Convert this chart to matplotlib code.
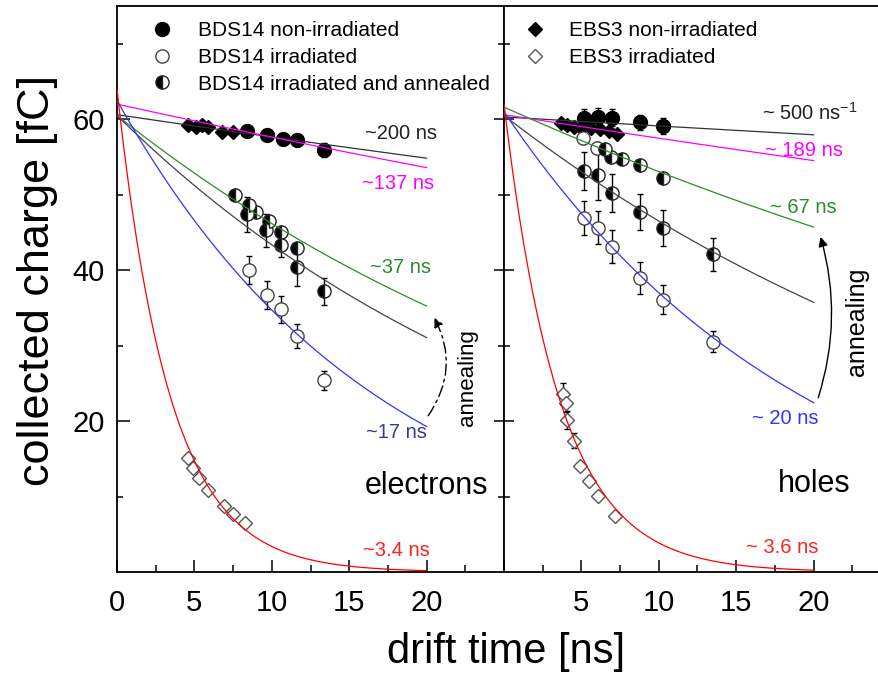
import matplotlib
matplotlib.use("Agg")
import matplotlib.pyplot as plt
from matplotlib.lines import Line2D
import numpy as np

plt.rcParams["font.family"] = ["Liberation Sans", "DejaVu Sans"]
plt.rcParams["mathtext.fontset"] = "custom"
plt.rcParams["mathtext.rm"] = "Liberation Sans"
plt.rcParams["mathtext.default"] = "regular"

# ---- electrons (left panel) ----
bds_non_e_t = [8.4, 9.7, 10.7, 11.6, 13.4]
bds_non_e_q = [58.4, 57.9, 57.4, 57.3, 55.9]
bds_non_e_err = [0.8, 0.7, 0.7, 0.7, 0.9]

ebs_non_e_t = [4.6, 5.1, 5.5, 5.9, 6.8, 7.5]
ebs_non_e_q = [59.2, 59.0, 59.2, 59.0, 58.3, 58.3]

bds_irr_e_t = [8.5, 9.7, 10.6, 11.6, 13.4]
bds_irr_e_q = [40.0, 36.7, 34.8, 31.3, 25.4]
bds_irr_e_err = [1.9, 1.9, 1.8, 1.6, 1.3]

bds_ann_e_t = [7.6, 8.4, 8.5, 9.0, 9.6, 9.8, 10.6, 10.6, 11.6, 11.6, 13.4]
bds_ann_e_q = [49.9, 47.4, 48.6, 47.7, 45.3, 46.5, 45.0, 43.3, 42.9, 40.4, 37.2]
bds_ann_e_err = [0.5, 2.3, 0.6, 0.5, 2.2, 0.6, 0.6, 1.5, 0.6, 2.5, 1.8]

ebs_irr_e_t = [4.6, 4.9, 5.3, 5.9, 6.9, 7.5, 8.3]
ebs_irr_e_q = [15.1, 13.8, 12.5, 10.8, 8.8, 7.7, 6.5]

# exponential fits Q0*exp(-t/tau) for electrons
tau_e = [200, 137, 37, 30, 17, 3.4]
q0_e = [60.6, 62.0, 60.5, 60.5, 62.5, 64.0]

# ---- holes (right panel) ----
bds_non_h_t = [5.2, 6.1, 7.0, 8.8, 10.3]
bds_non_h_q = [60.2, 60.3, 60.2, 59.6, 59.1]
bds_non_h_err = [1.1, 1.2, 1.1, 1.0, 1.0]

ebs_non_h_t = [3.7, 4.1, 4.5, 5.0, 5.6, 6.2, 6.8, 7.3]
ebs_non_h_q = [59.5, 59.2, 59.0, 58.9, 58.8, 58.7, 58.4, 58.1]

bds_irr_h_t = [5.1, 6.0, 5.2, 6.1, 7.0, 8.8, 10.3, 13.5]
bds_irr_h_q = [57.5, 56.2, 46.9, 45.6, 43.1, 39.0, 36.1, 30.5]
bds_irr_h_err = [0.8, 0.8, 2.3, 2.2, 2.2, 2.1, 1.9, 1.4]

bds_ann_h_t = [6.5, 6.9, 7.6, 8.8, 10.3, 5.2, 6.1, 7.0, 8.8, 10.3, 13.5]
bds_ann_h_q = [56.0, 55.0, 54.7, 53.9, 52.2, 53.1, 52.6, 50.2, 47.7, 45.6, 42.1]
bds_ann_h_err = [0.7, 0.7, 0.6, 0.6, 0.6, 2.5, 3.3, 2.5, 2.4, 2.4, 2.2]

ebs_irr_h_t = [3.8, 4.0, 4.1, 4.5, 4.9, 5.5, 6.1, 7.2]
ebs_irr_h_q = [23.6, 22.4, 20.1, 17.4, 14.1, 12.1, 10.1, 7.4]
ebs_irr_h_err = [1.5, 1.2, 1.2, 1.0, 0.5, 0.4, 0.4, 0.4]

tau_h = [500, 189, 67, 38, 20, 3.6]
q0_h = [60.3, 60.6, 61.6, 60.5, 61.0, 62.0]

fit_colors = ["#333333", "#ff00ff", "#2e8b2e", "#444444", "#3333ff", "#ff0000"]

# fit annotations: (text, x, y, colour)
labels_e = [("~200 ns", 20.65, 58.1, "#222222"),
            ("~137 ns", 20.5, 51.5, "#ff00ff"),
            ("~37 ns", 20.3, 40.3, "#2e8b2e"),
            ("~17 ns", 20.0, 18.5, "#3a3a9a"),
            ("~3.4 ns", 20.2, 2.8, "#ff2020")]
labels_h = [("~ 500 ns$^{-1}$", 22.8, 60.8, "#222222"),
            ("~ 189 ns", 21.9, 55.9, "#ff00ff"),
            ("~ 67 ns", 21.5, 48.3, "#2e8b2e"),
            ("~ 20 ns", 20.3, 20.4, "#3333ff"),
            ("~ 3.6 ns", 20.3, 3.2, "#ff2020")]

W, H = 879, 674


def box(x0, x1, ytop, ybot):
    return [x0 / W, 1 - ybot / H, (x1 - x0) / W, (ybot - ytop) / H]


fig = plt.figure(figsize=(W / 100, H / 100), dpi=100)
ax1 = fig.add_axes(box(117, 504, 6, 572))
ax2 = fig.add_axes(box(504, 891, 6, 572))

ms_c = 9.5
ms_d = 7.5
eb_kw = dict(ls="none", ecolor="black", elinewidth=1.0, capsize=2, capthick=1.0, zorder=3)


def draw_points(ax, t, q, err, **kw):
    if err is None:
        ax.plot(t, q, ls="none", zorder=3, **kw)
    else:
        ax.errorbar(t, q, yerr=err, **eb_kw, **kw)


filled = dict(marker="o", ms=ms_c + 0.5, mfc="black", mec="black")
opened = dict(marker="o", ms=ms_c, mfc="white", mec="#444444", mew=1.0)
half = dict(marker="o", ms=ms_c, fillstyle="left", mfc="black",
            markerfacecoloralt="white", mec="#222222", mew=1.0)
dia_f = dict(marker="D", ms=ms_d, mfc="black", mec="black")
dia_o = dict(marker="D", ms=ms_d, mfc="white", mec="#555555", mew=1.0)

tt = np.linspace(0, 20, 300)

# electrons
draw_points(ax1, ebs_non_e_t, ebs_non_e_q, None, **dia_f)
draw_points(ax1, bds_non_e_t, bds_non_e_q, bds_non_e_err, **filled)
draw_points(ax1, bds_irr_e_t, bds_irr_e_q, bds_irr_e_err, **opened)
draw_points(ax1, bds_ann_e_t, bds_ann_e_q, bds_ann_e_err, **half)
draw_points(ax1, ebs_irr_e_t, ebs_irr_e_q, None, **dia_o)
for tau, q0, c in zip(tau_e, q0_e, fit_colors):
    ax1.plot(tt, q0 * np.exp(-tt / tau), color=c, lw=0.9, zorder=4)

# holes
draw_points(ax2, ebs_non_h_t, ebs_non_h_q, None, **dia_f)
draw_points(ax2, bds_non_h_t, bds_non_h_q, bds_non_h_err, **filled)
draw_points(ax2, bds_irr_h_t, bds_irr_h_q, bds_irr_h_err, **opened)
draw_points(ax2, bds_ann_h_t, bds_ann_h_q, bds_ann_h_err, **half)
draw_points(ax2, ebs_irr_h_t, ebs_irr_h_q, ebs_irr_h_err, **dia_o)
for tau, q0, c in zip(tau_h, q0_h, fit_colors):
    ax2.plot(tt, q0 * np.exp(-tt / tau), color=c, lw=0.9, zorder=4)

for ax, labs in ((ax1, labels_e), (ax2, labels_h)):
    for txt, x, y, c in labs:
        ax.text(x, y, txt, color=c, fontsize=14.5, ha="right", va="center")

ax1.text(24.0, 11.4, "electrons", fontsize=22, ha="right", va="center")
ax2.text(22.4, 11.6, "holes", fontsize=22, ha="right", va="center")
ax1.text(22.66, 25.7, "annealing", fontsize=16, rotation=90, ha="center", va="center")
ax2.text(22.8, 33.1, "annealing", fontsize=18, rotation=90, ha="center", va="center")

ax1.annotate("", xy=(20.5, 33.7), xytext=(20.1, 20.7),
             arrowprops=dict(arrowstyle="-|>", connectionstyle="arc3,rad=0.3",
                             linestyle=(0, (8, 3, 2, 3)), color="black", lw=1.0,
                             mutation_scale=14, shrinkA=0, shrinkB=0))
ax2.annotate("", xy=(20.45, 44.4), xytext=(20.3, 23.1),
             arrowprops=dict(arrowstyle="-|>", connectionstyle="arc3,rad=0.15",
                             color="black", lw=1.0, mutation_scale=14,
                             shrinkA=0, shrinkB=0))

for ax in (ax1, ax2):
    ax.set_xlim(0, 25)
    ax.set_ylim(0, 75)
    ax.set_xticks([0, 5, 10, 15, 20, 25])
    ax.set_xticks(np.arange(2.5, 25, 5), minor=True)
    ax.set_yticks([20, 40, 60])
    ax.set_yticks([10, 30, 50, 70], minor=True)
    for s in ax.spines.values():
        s.set_linewidth(1.3)
    ax.tick_params(axis="x", which="both", direction="in", top=False,
                   labelsize=21, pad=12, width=1.1)
    ax.tick_params(axis="x", which="major", length=8.6)
    ax.tick_params(axis="x", which="minor", length=5)

ax1.set_xticklabels(["0", "5", "10", "15", "20", ""])
ax2.set_xticklabels(["", "5", "10", "15", "20", ""])

ax1.tick_params(axis="y", which="both", direction="in", left=True, right=False,
                labelsize=21, pad=9, width=1.1)
ax1.tick_params(axis="y", which="major", length=9.4)
ax1.tick_params(axis="y", which="minor", length=4.5)

ax2.tick_params(axis="y", which="both", direction="inout", left=True, right=True,
                labelleft=False, width=1.1)
ax2.tick_params(axis="y", which="major", length=15)
ax2.tick_params(axis="y", which="minor", length=8.6)

# legends
h_left = [Line2D([], [], ls="none", **filled),
          Line2D([], [], ls="none", **opened),
          Line2D([], [], ls="none", **half)]
ax1.legend(h_left, ["BDS14 non-irradiated", "BDS14 irradiated",
                    "BDS14 irradiated and annealed"],
           loc="upper left", bbox_to_anchor=(0.09, 0.973), frameon=False,
           fontsize=15, handlelength=1.0, handletextpad=1.2, labelspacing=0.37,
           borderpad=0, borderaxespad=0, numpoints=1)
h_right = [Line2D([], [], ls="none", **dia_f), Line2D([], [], ls="none", **dia_o)]
ax2.legend(h_right, ["EBS3 non-irradiated", "EBS3 irradiated"],
           loc="upper left", bbox_to_anchor=(0.052, 0.973), frameon=False,
           fontsize=15, handlelength=1.0, handletextpad=1.15, labelspacing=0.37,
           borderpad=0, borderaxespad=0, numpoints=1)

fig.text(506 / W, 1 - 652 / H, "drift time [ns]", fontsize=30, ha="center", va="center")
fig.text(38 / W, 1 - 280 / H, "collected charge [fC]", fontsize=32.5,
         rotation=90, ha="center", va="center")

fig.savefig("out.png", dpi=100)
